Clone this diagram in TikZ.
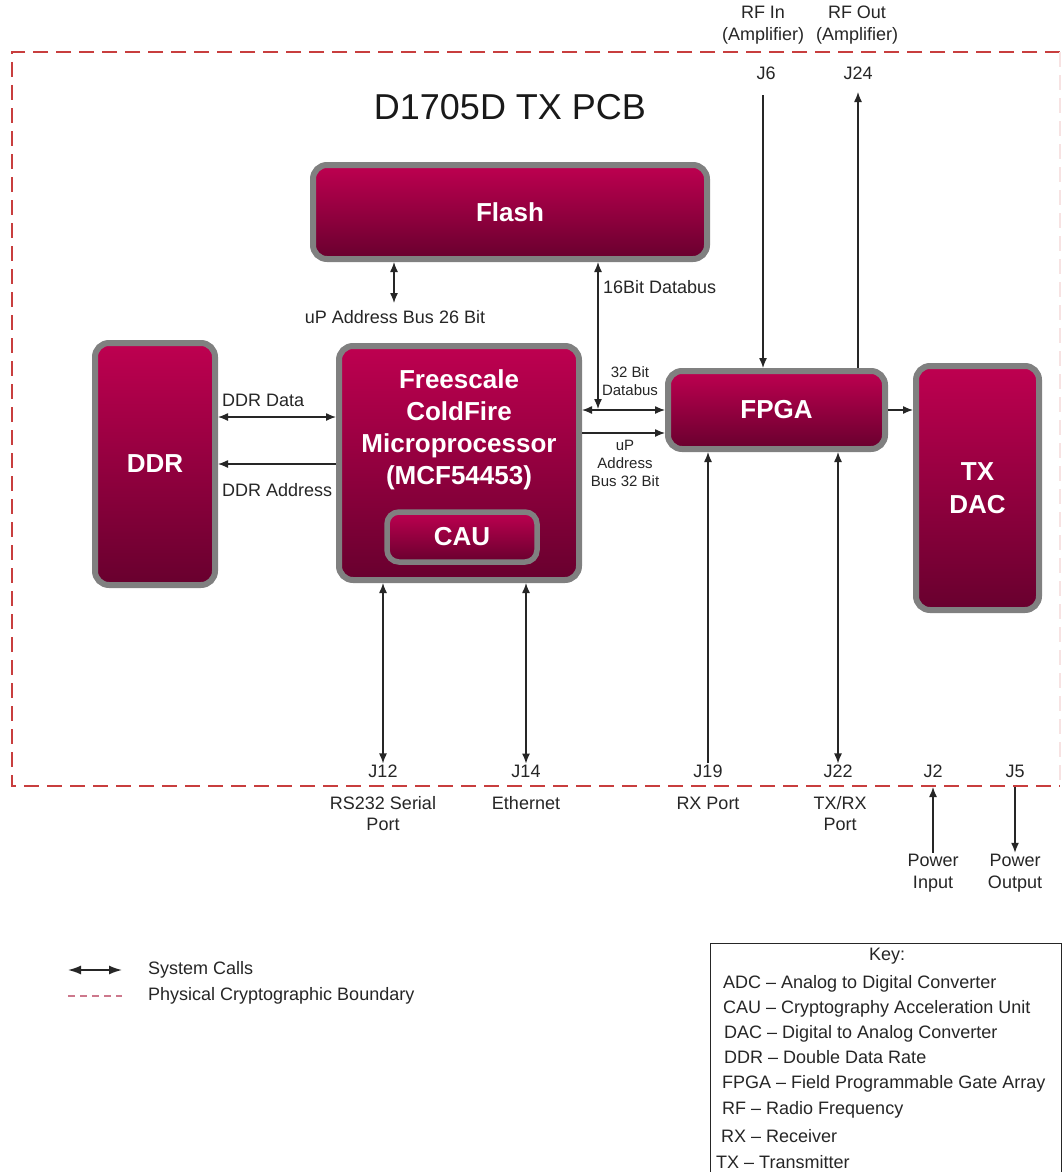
\documentclass[tikz,border=0pt]{standalone}
\usepackage{fontspec}
\setmainfont{Liberation Sans}
\usetikzlibrary{arrows.meta}
\definecolor{boxtop}{RGB}{190,0,80}
\definecolor{boxbot}{RGB}{104,0,46}
\definecolor{boxedge}{RGB}{128,128,128}
\definecolor{bndred}{RGB}{200,62,62}
\definecolor{bndpink}{RGB}{205,120,140}
\begin{document}
\begin{tikzpicture}[x=1pt,y=-1pt,
  >={Latex[length=10pt,width=8pt]},
  blk/.style={draw=boxedge, line width=6pt, rounded corners=14pt, top color=boxtop, bottom color=boxbot, inner sep=0pt},
  blktext/.style={text=white, font=\fontsize{26}{32}\selectfont\bfseries, align=center},
  lbl/.style={font=\fontsize{18}{22}\selectfont, inner sep=1pt, align=center, text=black!85},
  sml/.style={font=\fontsize{15}{18}\selectfont, inner sep=1pt, align=center, text=black!85},
  conn/.style={line width=1.3pt, draw=black!85},
  bnd/.style={draw=bndred, line width=2.2pt, dash pattern=on 15pt off 8pt},
  keyline/.style={font=\fontsize{18}{22}\selectfont, inner sep=1pt, anchor=base west, text=black!85}
]
\useasboundingbox (0,0) rectangle (1062,1172);
\clip (0,0) rectangle (1062,1172);
\fill[white] (0,0) rectangle (1062,1172);

% boundary
\draw[bnd] (1060,52) -- (12,52) -- (12,786) -- (1060,786);
\draw[bnd, draw=bndred!15] (1060,52) -- (1060,786);

% title
\node[font=\fontsize{36}{40}\selectfont, text=black!90] (title) at (510,107) {D1705D TX PCB};

% blocks
\node[blk, blktext, minimum width=394pt, minimum height=94pt] (flash) at (510,212) {Flash};
\node[blk, blktext, minimum width=120pt, minimum height=242pt] (ddr) at (155,464) {DDR};
\node[blk, minimum width=240pt, minimum height=234pt] (cpu) at (459,463) {};
\node[blktext] (cputext) at (459,430) {Freescale\\ColdFire\\Microprocessor\\(MCF54453)};
\node[blk, blktext, line width=5.5pt, rounded corners=12pt, minimum width=150pt, minimum height=50pt] (cau) at (462,537) {CAU};
\node[blk, blktext, minimum width=217pt, minimum height=78pt] (fpga) at (776.5,410) {FPGA};
\node[blk, blktext, font=\fontsize{26}{33}\selectfont\bfseries, minimum width=123pt, minimum height=244pt] (dac) at (977.5,488) {TX\\DAC};

% Flash connections
\coordinate (faddr) at (394,303);
\draw[conn,<->] (flash.south -| faddr) -- (faddr);
\node[lbl] (lfaddr) at (395,317) {uP Address Bus 26 Bit};
\coordinate (db16) at (598,409);
\draw[conn,<->] (flash.south -| db16) -- (db16);
\node[lbl, anchor=west] (ldb16) at (602,287) {16Bit Databus};

% CPU - FPGA
\coordinate (dbus) at (598,410);
\draw[conn,<->] (cpu.east |- dbus) -- (fpga.west |- dbus);
\node[sml] (ldbus) at (630,381) {32 Bit\\Databus};
\coordinate (abus) at (620,433);
\draw[conn,->] (cpu.east |- abus) -- (fpga.west |- abus);
\node[sml] (labus) at (625,463) {uP\\Address\\Bus 32 Bit};

% DDR - CPU
\coordinate (ddat) at (280,417);
\draw[conn,<->] (ddr.east |- ddat) -- (cpu.west |- ddat);
\node[lbl, anchor=west] (lddat) at (221,400) {DDR Data};
\coordinate (dadr) at (280,464);
\draw[conn,->] (cpu.west |- dadr) -- (ddr.east |- dadr);
\node[lbl, anchor=west] (ldadr) at (221,490) {DDR Address};

% FPGA -> DAC
\draw[conn,->] (fpga.east) -- (fpga.east -| dac.west);

% top connectors
\node[lbl] (rfin) at (763,25.5) {RF In\\(Amplifier)};
\node[lbl] (rfout) at (857,25.5) {RF Out\\(Amplifier)};
\node[lbl] (lj6) at (766,73) {J6};
\node[lbl] (lj24) at (858,73) {J24};
\coordinate (j6top) at (763,95);
\coordinate (j24top) at (858,92);
\draw[conn,->] (j6top) -- (fpga.north -| j6top);
\draw[conn,->] (fpga.north -| j24top) -- (j24top);

% bottom connectors
\node[lbl] (lj12) at (383,771) {J12};
\node[lbl] (lj14) at (526,771) {J14};
\node[lbl] (lj19) at (708,771) {J19};
\node[lbl] (lj22) at (838,771) {J22};
\node[lbl] (lj2) at (933,771) {J2};
\node[lbl] (lj5) at (1015,771) {J5};
\draw[conn,<->] (cpu.south -| lj12) -- (lj12.north);
\draw[conn,<->] (cpu.south -| lj14) -- (lj14.north);
\draw[conn,->] (lj19.north) -- (fpga.south -| lj19);
\draw[conn,<->] (fpga.south -| lj22) -- (lj22.north);

\node[lbl, font=\fontsize{18}{21}\selectfont] (prs) at (383,813.5) {RS232 Serial\\Port};
\node[lbl] (peth) at (526,803) {Ethernet};
\node[lbl] (prx) at (708,803) {RX Port};
\node[lbl, font=\fontsize{18}{21}\selectfont] (ptxrx) at (840,813.5) {TX/RX\\Port};
\node[lbl] (pin) at (933,873) {Power\\Input};
\node[lbl] (pout) at (1015,873) {Power\\Output};
\coordinate (bnd2) at (933,787);
\coordinate (bnd5) at (1015,787);
\draw[conn,->] (pin.north) -- (bnd2);
\draw[conn,->] (bnd5) -- (pout.north);

% legend
\coordinate (la1) at (68,970);
\coordinate (la2) at (122,970);
\draw[conn, line width=1.5pt, <->, >={Latex[length=13pt,width=9pt]}] (la1) -- (la2);
\node[lbl, anchor=west] (lsys) at (147,970) {System Calls};
\coordinate (lb1) at (68,996);
\coordinate (lb2) at (122,996);
\draw[draw=bndpink, line width=1.5pt, dash pattern=on 7pt off 5pt] (lb1) -- (lb2);
\node[lbl, anchor=west] (lphys) at (147,996) {Physical Cryptographic Boundary};

% key
\node[draw=black!85, line width=1pt, anchor=north west, minimum width=351pt, minimum height=260pt, inner sep=0pt] (keybox) at (710,943) {};
\node[lbl] (keyt) at (887,956) {Key:};
\node[keyline] (k1) at (722,988.5) {ADC -- Analog to Digital Converter};
\node[keyline] (k2) at (722,1013.5) {CAU -- Cryptography Acceleration Unit};
\node[keyline] (k3) at (723,1038.5) {DAC -- Digital to Analog Converter};
\node[keyline] (k4) at (723,1063.5) {DDR -- Double Data Rate};
\node[keyline] (k5) at (721,1088.5) {FPGA -- Field Programmable Gate Array};
\node[keyline] (k6) at (721,1114.5) {RF -- Radio Frequency};
\node[keyline] (k7) at (720,1142.5) {RX -- Receiver};
\node[keyline] (k8) at (715,1168.5) {TX -- Transmitter};
\end{tikzpicture}
\end{document}
